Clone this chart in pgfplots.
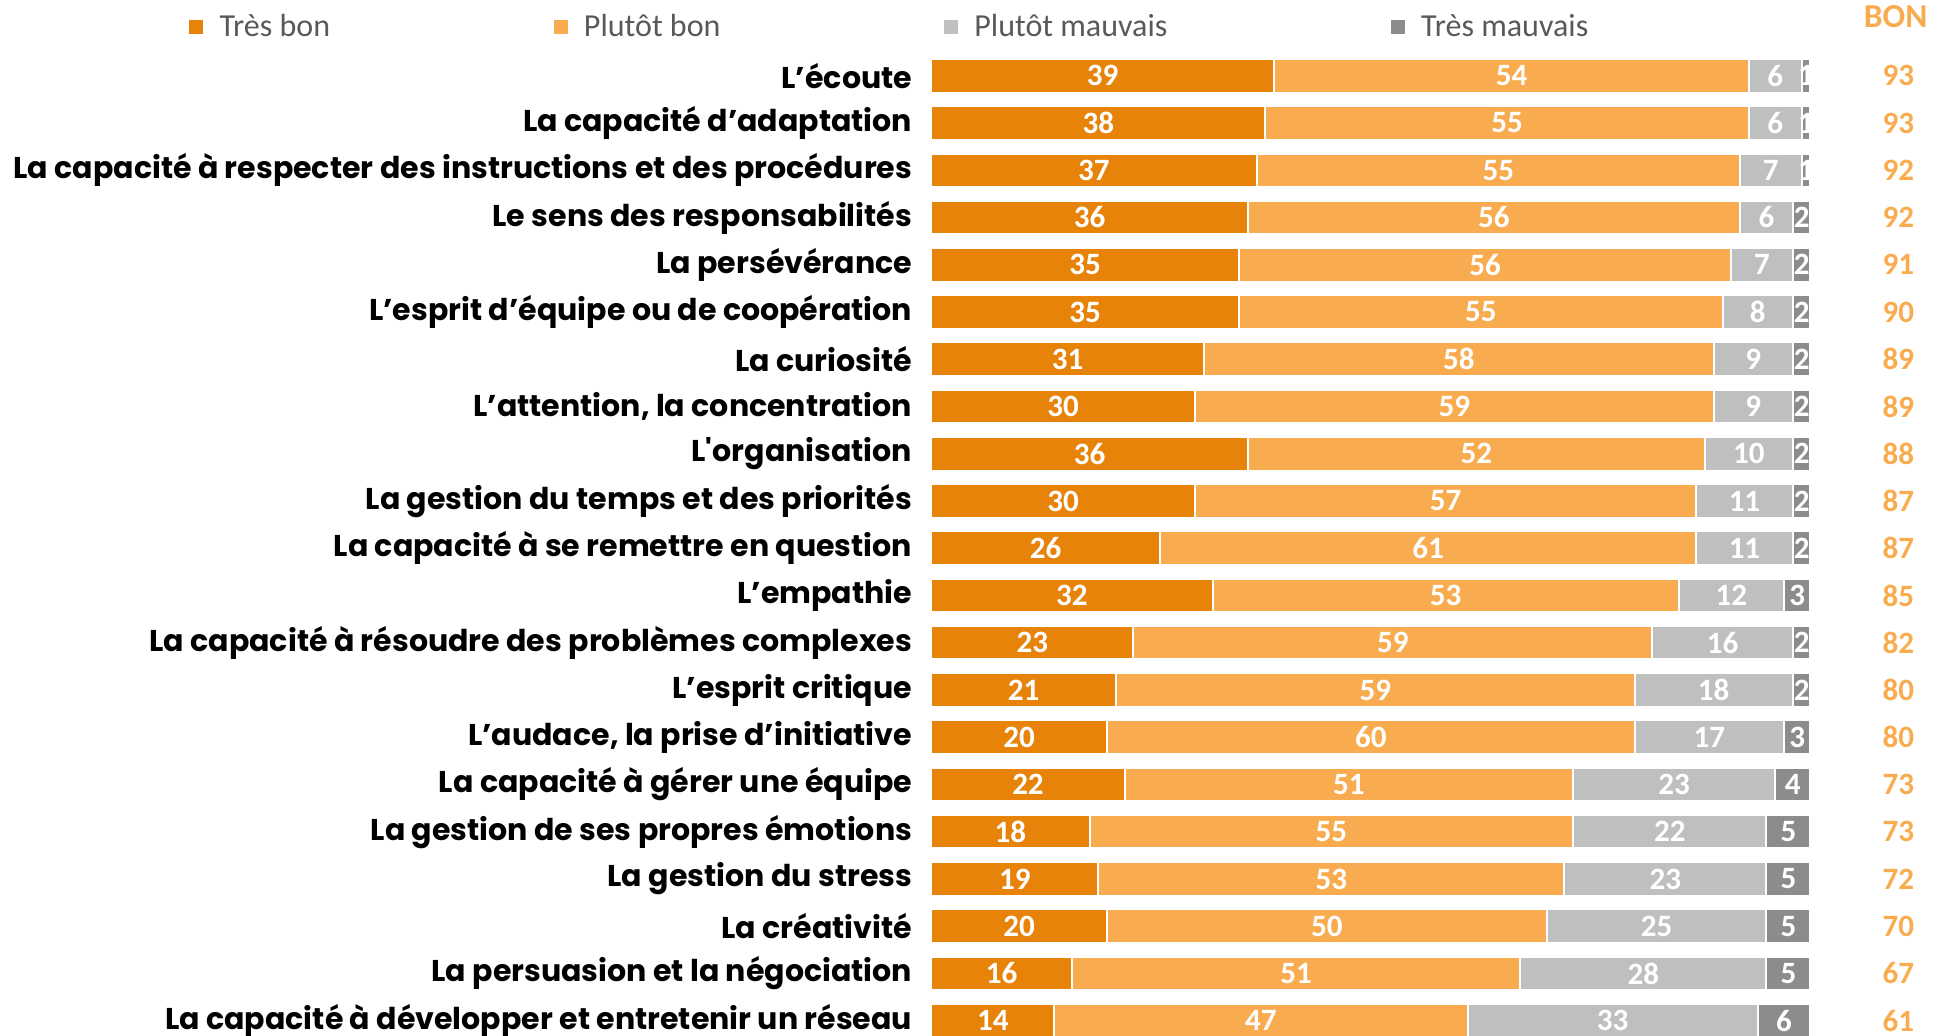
\documentclass[border=0pt]{standalone}
\usepackage{pgfplots}
\pgfplotsset{compat=1.18}
\usepackage{pgfplotstable}
\usepackage{fontspec}
\setmainfont{Carlito}
\newfontfamily\labelfont{Poppins}

\definecolor{tresbon}{HTML}{E8830A}
\definecolor{plutotbon}{HTML}{F9AC4F}
\definecolor{plutotmauvais}{HTML}{BFBFBF}
\definecolor{tresmauvais}{HTML}{8C8C8C}
\definecolor{legtext}{HTML}{595959}

\pgfplotstableread[col sep=semicolon]{
label;a;b;c;d;bon
L’écoute;39;54;6;1;93
La capacité d’adaptation;38;55;6;1;93
La capacité à respecter des instructions et des procédures;37;55;7;1;92
Le sens des responsabilités;36;56;6;2;92
La persévérance;35;56;7;2;91
L’esprit d’équipe ou de coopération;35;55;8;2;90
La curiosité;31;58;9;2;89
L’attention, la concentration;30;59;9;2;89
L'organisation;36;52;10;2;88
La gestion du temps et des priorités;30;57;11;2;87
La capacité à se remettre en question;26;61;11;2;87
L’empathie;32;53;12;3;85
La capacité à résoudre des problèmes complexes;23;59;16;2;82
L’esprit critique;21;59;18;2;80
L’audace, la prise d’initiative;20;60;17;3;80
La capacité à gérer une équipe;22;51;23;4;73
La gestion de ses propres émotions;18;55;22;5;73
La gestion du stress;19;53;23;5;72
La créativité;20;50;25;5;70
La persuasion et la négociation;16;51;28;5;67
La capacité à développer et entretenir un réseau;14;47;33;6;61
}\data

\pgfplotsset{
  seg/.style={xbar, bar shift=0pt, fill=#1, draw=white, line width=0.8pt, forget plot},
  seglabel/.style={only marks, mark=*, mark size=0pt, mark options={draw=none, fill=none},
    nodes near coords, point meta=explicit, forget plot,
    every node near coord/.append style={anchor=center, text=#1,
      font=\bfseries\fontsize{12.5}{13}\selectfont}},
  legsquare/.style={legend image code/.code={
    \fill[#1] (0pt,-2.6pt) rectangle (5.2pt,2.6pt);
    \path[draw=none, fill=none] (0pt,0pt) rectangle (10pt,0.1pt);}},
}

\begin{document}
\begin{tikzpicture}
\begin{axis}[
  at={(375pt,-21pt)}, anchor=north west,
  scale only axis, width=354pt, height=399.5pt,
  xmin=0, xmax=100, ymin=0.5, ymax=21.5, y dir=reverse,
  axis line style={draw=none}, major tick length=0pt,
  xtick=\empty, ytick={1,...,21},
  yticklabels from table={\data}{label},
  yticklabel style={font=\labelfont\bfseries\fontsize{12.1}{13}\selectfont,
    anchor=east, inner sep=0pt, xshift=-7.5pt},
  /pgf/number format/assume math mode=true,
  bar width=13.5pt,
  clip=false,
  legend columns=-1,
  legend cell align=left,
  legend style={draw=none, fill=none, at={(-0.8446,1.025)}, anchor=west,
    inner sep=0pt, font=\fontsize{12.9}{14}\selectfont\color{legtext},
    /tikz/every even column/.append style={column sep=88pt}},
]
% segments drawn from the right end back to zero
\addplot[seg=tresmauvais] table[x expr=\thisrow{a}+\thisrow{b}+\thisrow{c}+\thisrow{d}, y expr=\coordindex+1] {\data};
\addplot[seg=plutotmauvais] table[x expr=\thisrow{a}+\thisrow{b}+\thisrow{c}, y expr=\coordindex+1] {\data};
\addplot[seg=plutotbon] table[x expr=\thisrow{a}+\thisrow{b}, y expr=\coordindex+1] {\data};
\addplot[seg=tresbon] table[x=a, y expr=\coordindex+1] {\data};

% values in the segments
\addplot[seglabel=white] table[x expr=\thisrow{a}/2, y expr=\coordindex+1, meta=a] {\data};
\addplot[seglabel=white] table[x expr=\thisrow{a}+\thisrow{b}/2, y expr=\coordindex+1, meta=b] {\data};
\addplot[seglabel=white] table[x expr=\thisrow{a}+\thisrow{b}+\thisrow{c}/2, y expr=\coordindex+1, meta=c] {\data};
\addplot[seglabel=white] table[x expr=\thisrow{a}+\thisrow{b}+\thisrow{c}+\thisrow{d}/2, y expr=\coordindex+1, meta=d] {\data};
% BON column
\addplot[seglabel=plutotbon] table[x expr=110, y expr=\coordindex+1, meta=bon] {\data};
\node[font=\bfseries\fontsize{13.5}{14}\selectfont, text=plutotbon] at (axis cs:109.7,-0.26) {BON};

\addlegendimage{legsquare=tresbon}
\addlegendentry{Très bon}
\addlegendimage{legsquare=plutotbon}
\addlegendentry{Plutôt bon}
\addlegendimage{legsquare=plutotmauvais}
\addlegendentry{Plutôt mauvais}
\addlegendimage{legsquare=tresmauvais}
\addlegendentry{Très mauvais}
\end{axis}
\pgfresetboundingbox
\path[use as bounding box] (0,0) rectangle (784pt,-417pt);
\end{tikzpicture}
\end{document}
